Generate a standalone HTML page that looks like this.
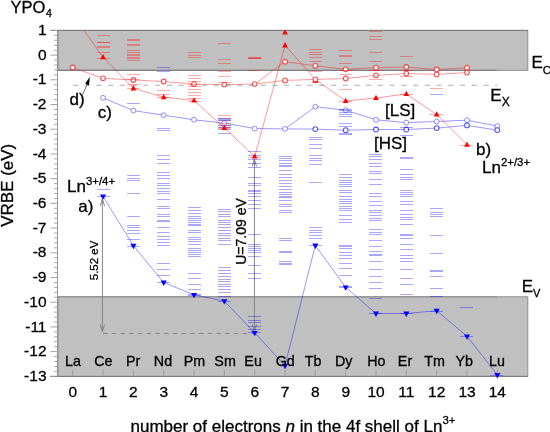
<!DOCTYPE html>
<html><head><meta charset="utf-8"><style>
html,body{margin:0;padding:0;background:#fff;}
body{width:550px;height:432px;overflow:hidden;}
svg{display:block;will-change:transform;}
</style></head><body>
<svg width="550" height="432" viewBox="0 0 550 432">
<rect x="58" y="30.4" width="469.8" height="39.9" fill="#c0c0c0" stroke="#8c8c8c" stroke-width="1"/>
<rect x="58" y="296.8" width="469.8" height="79.6" fill="#c0c0c0" stroke="#8c8c8c" stroke-width="1"/>
<line x1="50.5" y1="30.4" x2="528" y2="30.4" stroke="#7a7a7a" stroke-width="1"/>
<line x1="58" y1="70.3" x2="497" y2="70.3" stroke="#7a7a7a" stroke-width="1"/>
<line x1="58" y1="296.8" x2="497" y2="296.8" stroke="#8e8e8e" stroke-width="0.9"/>
<line x1="57.5" y1="30" x2="57.5" y2="376.5" stroke="#8a8a8a" stroke-width="0.9"/>
<line x1="50" y1="376.4" x2="528" y2="376.4" stroke="#7a7a7a" stroke-width="1"/>
<line x1="50.5" y1="30.40" x2="58" y2="30.40" stroke="#9a9a9a" stroke-width="0.9"/>
<line x1="54.2" y1="35.34" x2="58" y2="35.34" stroke="#9a9a9a" stroke-width="0.9"/>
<line x1="54.2" y1="40.28" x2="58" y2="40.28" stroke="#9a9a9a" stroke-width="0.9"/>
<line x1="54.2" y1="45.23" x2="58" y2="45.23" stroke="#9a9a9a" stroke-width="0.9"/>
<line x1="54.2" y1="50.17" x2="58" y2="50.17" stroke="#9a9a9a" stroke-width="0.9"/>
<line x1="50.5" y1="55.11" x2="58" y2="55.11" stroke="#9a9a9a" stroke-width="0.9"/>
<line x1="54.2" y1="60.05" x2="58" y2="60.05" stroke="#9a9a9a" stroke-width="0.9"/>
<line x1="54.2" y1="64.99" x2="58" y2="64.99" stroke="#9a9a9a" stroke-width="0.9"/>
<line x1="54.2" y1="69.94" x2="58" y2="69.94" stroke="#9a9a9a" stroke-width="0.9"/>
<line x1="54.2" y1="74.88" x2="58" y2="74.88" stroke="#9a9a9a" stroke-width="0.9"/>
<line x1="50.5" y1="79.82" x2="58" y2="79.82" stroke="#9a9a9a" stroke-width="0.9"/>
<line x1="54.2" y1="84.76" x2="58" y2="84.76" stroke="#9a9a9a" stroke-width="0.9"/>
<line x1="54.2" y1="89.70" x2="58" y2="89.70" stroke="#9a9a9a" stroke-width="0.9"/>
<line x1="54.2" y1="94.65" x2="58" y2="94.65" stroke="#9a9a9a" stroke-width="0.9"/>
<line x1="54.2" y1="99.59" x2="58" y2="99.59" stroke="#9a9a9a" stroke-width="0.9"/>
<line x1="50.5" y1="104.53" x2="58" y2="104.53" stroke="#9a9a9a" stroke-width="0.9"/>
<line x1="54.2" y1="109.47" x2="58" y2="109.47" stroke="#9a9a9a" stroke-width="0.9"/>
<line x1="54.2" y1="114.41" x2="58" y2="114.41" stroke="#9a9a9a" stroke-width="0.9"/>
<line x1="54.2" y1="119.36" x2="58" y2="119.36" stroke="#9a9a9a" stroke-width="0.9"/>
<line x1="54.2" y1="124.30" x2="58" y2="124.30" stroke="#9a9a9a" stroke-width="0.9"/>
<line x1="50.5" y1="129.24" x2="58" y2="129.24" stroke="#9a9a9a" stroke-width="0.9"/>
<line x1="54.2" y1="134.18" x2="58" y2="134.18" stroke="#9a9a9a" stroke-width="0.9"/>
<line x1="54.2" y1="139.12" x2="58" y2="139.12" stroke="#9a9a9a" stroke-width="0.9"/>
<line x1="54.2" y1="144.07" x2="58" y2="144.07" stroke="#9a9a9a" stroke-width="0.9"/>
<line x1="54.2" y1="149.01" x2="58" y2="149.01" stroke="#9a9a9a" stroke-width="0.9"/>
<line x1="50.5" y1="153.95" x2="58" y2="153.95" stroke="#9a9a9a" stroke-width="0.9"/>
<line x1="54.2" y1="158.89" x2="58" y2="158.89" stroke="#9a9a9a" stroke-width="0.9"/>
<line x1="54.2" y1="163.83" x2="58" y2="163.83" stroke="#9a9a9a" stroke-width="0.9"/>
<line x1="54.2" y1="168.78" x2="58" y2="168.78" stroke="#9a9a9a" stroke-width="0.9"/>
<line x1="54.2" y1="173.72" x2="58" y2="173.72" stroke="#9a9a9a" stroke-width="0.9"/>
<line x1="50.5" y1="178.66" x2="58" y2="178.66" stroke="#9a9a9a" stroke-width="0.9"/>
<line x1="54.2" y1="183.60" x2="58" y2="183.60" stroke="#9a9a9a" stroke-width="0.9"/>
<line x1="54.2" y1="188.54" x2="58" y2="188.54" stroke="#9a9a9a" stroke-width="0.9"/>
<line x1="54.2" y1="193.49" x2="58" y2="193.49" stroke="#9a9a9a" stroke-width="0.9"/>
<line x1="54.2" y1="198.43" x2="58" y2="198.43" stroke="#9a9a9a" stroke-width="0.9"/>
<line x1="50.5" y1="203.37" x2="58" y2="203.37" stroke="#9a9a9a" stroke-width="0.9"/>
<line x1="54.2" y1="208.31" x2="58" y2="208.31" stroke="#9a9a9a" stroke-width="0.9"/>
<line x1="54.2" y1="213.25" x2="58" y2="213.25" stroke="#9a9a9a" stroke-width="0.9"/>
<line x1="54.2" y1="218.20" x2="58" y2="218.20" stroke="#9a9a9a" stroke-width="0.9"/>
<line x1="54.2" y1="223.14" x2="58" y2="223.14" stroke="#9a9a9a" stroke-width="0.9"/>
<line x1="50.5" y1="228.08" x2="58" y2="228.08" stroke="#9a9a9a" stroke-width="0.9"/>
<line x1="54.2" y1="233.02" x2="58" y2="233.02" stroke="#9a9a9a" stroke-width="0.9"/>
<line x1="54.2" y1="237.96" x2="58" y2="237.96" stroke="#9a9a9a" stroke-width="0.9"/>
<line x1="54.2" y1="242.91" x2="58" y2="242.91" stroke="#9a9a9a" stroke-width="0.9"/>
<line x1="54.2" y1="247.85" x2="58" y2="247.85" stroke="#9a9a9a" stroke-width="0.9"/>
<line x1="50.5" y1="252.79" x2="58" y2="252.79" stroke="#9a9a9a" stroke-width="0.9"/>
<line x1="54.2" y1="257.73" x2="58" y2="257.73" stroke="#9a9a9a" stroke-width="0.9"/>
<line x1="54.2" y1="262.67" x2="58" y2="262.67" stroke="#9a9a9a" stroke-width="0.9"/>
<line x1="54.2" y1="267.62" x2="58" y2="267.62" stroke="#9a9a9a" stroke-width="0.9"/>
<line x1="54.2" y1="272.56" x2="58" y2="272.56" stroke="#9a9a9a" stroke-width="0.9"/>
<line x1="50.5" y1="277.50" x2="58" y2="277.50" stroke="#9a9a9a" stroke-width="0.9"/>
<line x1="54.2" y1="282.44" x2="58" y2="282.44" stroke="#9a9a9a" stroke-width="0.9"/>
<line x1="54.2" y1="287.38" x2="58" y2="287.38" stroke="#9a9a9a" stroke-width="0.9"/>
<line x1="54.2" y1="292.33" x2="58" y2="292.33" stroke="#9a9a9a" stroke-width="0.9"/>
<line x1="54.2" y1="297.27" x2="58" y2="297.27" stroke="#9a9a9a" stroke-width="0.9"/>
<line x1="50.5" y1="302.21" x2="58" y2="302.21" stroke="#9a9a9a" stroke-width="0.9"/>
<line x1="54.2" y1="307.15" x2="58" y2="307.15" stroke="#9a9a9a" stroke-width="0.9"/>
<line x1="54.2" y1="312.09" x2="58" y2="312.09" stroke="#9a9a9a" stroke-width="0.9"/>
<line x1="54.2" y1="317.04" x2="58" y2="317.04" stroke="#9a9a9a" stroke-width="0.9"/>
<line x1="54.2" y1="321.98" x2="58" y2="321.98" stroke="#9a9a9a" stroke-width="0.9"/>
<line x1="50.5" y1="326.92" x2="58" y2="326.92" stroke="#9a9a9a" stroke-width="0.9"/>
<line x1="54.2" y1="331.86" x2="58" y2="331.86" stroke="#9a9a9a" stroke-width="0.9"/>
<line x1="54.2" y1="336.80" x2="58" y2="336.80" stroke="#9a9a9a" stroke-width="0.9"/>
<line x1="54.2" y1="341.75" x2="58" y2="341.75" stroke="#9a9a9a" stroke-width="0.9"/>
<line x1="54.2" y1="346.69" x2="58" y2="346.69" stroke="#9a9a9a" stroke-width="0.9"/>
<line x1="50.5" y1="351.63" x2="58" y2="351.63" stroke="#9a9a9a" stroke-width="0.9"/>
<line x1="54.2" y1="356.57" x2="58" y2="356.57" stroke="#9a9a9a" stroke-width="0.9"/>
<line x1="54.2" y1="361.51" x2="58" y2="361.51" stroke="#9a9a9a" stroke-width="0.9"/>
<line x1="54.2" y1="366.46" x2="58" y2="366.46" stroke="#9a9a9a" stroke-width="0.9"/>
<line x1="54.2" y1="371.40" x2="58" y2="371.40" stroke="#9a9a9a" stroke-width="0.9"/>
<line x1="50.5" y1="376.34" x2="58" y2="376.34" stroke="#9a9a9a" stroke-width="0.9"/>
<line x1="72.70" y1="370" x2="72.70" y2="376.4" stroke="#9a9a9a" stroke-width="0.9"/>
<line x1="103.03" y1="370" x2="103.03" y2="376.4" stroke="#9a9a9a" stroke-width="0.9"/>
<line x1="133.36" y1="370" x2="133.36" y2="376.4" stroke="#9a9a9a" stroke-width="0.9"/>
<line x1="163.69" y1="370" x2="163.69" y2="376.4" stroke="#9a9a9a" stroke-width="0.9"/>
<line x1="194.02" y1="370" x2="194.02" y2="376.4" stroke="#9a9a9a" stroke-width="0.9"/>
<line x1="224.35" y1="370" x2="224.35" y2="376.4" stroke="#9a9a9a" stroke-width="0.9"/>
<line x1="254.68" y1="370" x2="254.68" y2="376.4" stroke="#9a9a9a" stroke-width="0.9"/>
<line x1="285.01" y1="370" x2="285.01" y2="376.4" stroke="#9a9a9a" stroke-width="0.9"/>
<line x1="315.34" y1="370" x2="315.34" y2="376.4" stroke="#9a9a9a" stroke-width="0.9"/>
<line x1="345.67" y1="370" x2="345.67" y2="376.4" stroke="#9a9a9a" stroke-width="0.9"/>
<line x1="376.00" y1="370" x2="376.00" y2="376.4" stroke="#9a9a9a" stroke-width="0.9"/>
<line x1="406.33" y1="370" x2="406.33" y2="376.4" stroke="#9a9a9a" stroke-width="0.9"/>
<line x1="436.66" y1="370" x2="436.66" y2="376.4" stroke="#9a9a9a" stroke-width="0.9"/>
<line x1="466.99" y1="370" x2="466.99" y2="376.4" stroke="#9a9a9a" stroke-width="0.9"/>
<line x1="497.32" y1="370" x2="497.32" y2="376.4" stroke="#9a9a9a" stroke-width="0.9"/>
<line x1="102.4" y1="199" x2="102.4" y2="331.5" stroke="#858585" stroke-width="1"/>
<path d="M100.3 205.8 L102.4 198.8 L104.5 205.8 M100.1 324.2 L102.4 331.8 L104.7 324.2" stroke="#858585" stroke-width="1" fill="none"/>
<line x1="103" y1="333.4" x2="254" y2="333.4" stroke="#858585" stroke-width="1" stroke-dasharray="4.4 4.33"/>
<line x1="254.4" y1="159" x2="254.4" y2="331.5" stroke="#858585" stroke-width="1"/>
<path d="M252.3 166.4 L254.4 159 L256.5 166.4 M252.3 324.5 L254.4 331.8 L256.5 324.5" stroke="#858585" stroke-width="1" fill="none"/>
<line x1="72.9" y1="85.3" x2="497" y2="85.3" stroke="#b0b0b0" stroke-width="1.1" stroke-dasharray="5.2 6.53"/>
<clipPath id="cp"><rect x="58" y="30.4" width="480" height="346"/></clipPath>
<g clip-path="url(#cp)">
<polyline points="72.7,67.5 103.0,78.3 133.4,80.0 163.7,81.5 194.0,84.1 224.3,84.6 254.7,84.1 285.0,80.4 315.3,79.4 345.7,78.5 376.0,75.4 406.3,73.5 436.7,74.4 467.0,72.6" stroke="rgba(255,0,0,0.45)" stroke-width="0.9" fill="none"/>
<polyline points="254.7,84.1 285.0,61.7 315.3,65.8 345.7,69.3 376.0,67.6 406.3,67.0 436.7,69.5 467.0,67.7" stroke="rgba(255,0,0,0.45)" stroke-width="0.9" fill="none"/>
<polyline points="103.0,97.8 133.4,110.6 163.7,115.2 194.0,119.8 224.3,123.1 254.7,128.5 285.0,128.9" stroke="rgba(0,0,255,0.45)" stroke-width="0.9" fill="none"/>
<polyline points="285.0,128.9 315.3,106.7 345.7,110.2 376.0,119.8 406.3,122.6 436.7,121.5 467.0,120.2 497.3,126.1" stroke="rgba(0,0,255,0.45)" stroke-width="0.9" fill="none"/>
<polyline points="285.0,128.9 315.3,129.1 345.7,130.2 376.0,129.5 406.3,129.5 436.7,128.1 467.0,125.4 497.3,130.1" stroke="rgba(0,0,255,0.45)" stroke-width="0.9" fill="none"/>
<polyline points="72.7,14.7 103.0,57.2 133.4,88.3 163.7,97.2 194.0,100.4 224.3,127.8 254.7,156.5 285.0,45.3 315.3,79.4 345.7,101.0 376.0,98.0 406.3,93.9 436.7,114.5 467.0,144.6" stroke="rgba(255,0,0,0.45)" stroke-width="0.9" fill="none"/>
<polyline points="103.0,196.3 133.4,245.7 163.7,282.5 194.0,294.8 224.3,301.1 254.7,332.8 285.0,365.7 315.3,245.4 345.7,287.3 376.0,313.5 406.3,313.5 436.7,310.7 467.0,336.3 497.3,374.9" stroke="rgba(0,0,255,0.45)" stroke-width="0.9" fill="none"/>
</g>
<path d="M315.3 77.4 L318.4 82.8 L312.2 82.8Z" fill="#ff0000"/>
<circle cx="72.7" cy="67.5" r="2.35" fill="#fff" stroke="rgba(240,30,30,0.75)" stroke-width="1.1"/>
<circle cx="103.0" cy="78.3" r="2.35" fill="#fff" stroke="rgba(240,30,30,0.75)" stroke-width="1.1"/>
<circle cx="133.4" cy="80.0" r="2.35" fill="#fff" stroke="rgba(240,30,30,0.75)" stroke-width="1.1"/>
<circle cx="163.7" cy="81.5" r="2.35" fill="#fff" stroke="rgba(240,30,30,0.75)" stroke-width="1.1"/>
<circle cx="194.0" cy="84.1" r="2.35" fill="#fff" stroke="rgba(240,30,30,0.75)" stroke-width="1.1"/>
<circle cx="224.3" cy="84.6" r="2.35" fill="#fff" stroke="rgba(240,30,30,0.75)" stroke-width="1.1"/>
<circle cx="254.7" cy="84.1" r="2.35" fill="#fff" stroke="rgba(240,30,30,0.75)" stroke-width="1.1"/>
<circle cx="285.0" cy="80.4" r="2.35" fill="#fff" stroke="rgba(240,30,30,0.75)" stroke-width="1.1"/>
<circle cx="315.3" cy="79.4" r="2.35" fill="#fff" stroke="rgba(240,30,30,0.75)" stroke-width="1.1"/>
<circle cx="345.7" cy="78.5" r="2.35" fill="#fff" stroke="rgba(240,30,30,0.75)" stroke-width="1.1"/>
<circle cx="376.0" cy="75.4" r="2.35" fill="#fff" stroke="rgba(240,30,30,0.75)" stroke-width="1.1"/>
<circle cx="406.3" cy="73.5" r="2.35" fill="#fff" stroke="rgba(240,30,30,0.75)" stroke-width="1.1"/>
<circle cx="436.7" cy="74.4" r="2.35" fill="#fff" stroke="rgba(240,30,30,0.75)" stroke-width="1.1"/>
<circle cx="467.0" cy="72.6" r="2.35" fill="#fff" stroke="rgba(240,30,30,0.75)" stroke-width="1.1"/>
<circle cx="285.0" cy="61.7" r="2.35" fill="#fff" stroke="rgba(240,30,30,0.75)" stroke-width="1.1"/>
<circle cx="315.3" cy="65.8" r="2.35" fill="#fff" stroke="rgba(240,30,30,0.75)" stroke-width="1.1"/>
<circle cx="345.7" cy="69.3" r="2.35" fill="#fff" stroke="rgba(240,30,30,0.75)" stroke-width="1.1"/>
<circle cx="376.0" cy="67.6" r="2.35" fill="#fff" stroke="rgba(240,30,30,0.75)" stroke-width="1.1"/>
<circle cx="406.3" cy="67.0" r="2.35" fill="#fff" stroke="rgba(240,30,30,0.75)" stroke-width="1.1"/>
<circle cx="436.7" cy="69.5" r="2.35" fill="#fff" stroke="rgba(240,30,30,0.75)" stroke-width="1.1"/>
<circle cx="467.0" cy="67.7" r="2.35" fill="#fff" stroke="rgba(240,30,30,0.75)" stroke-width="1.1"/>
<circle cx="103.0" cy="97.8" r="2.45" fill="#fff" stroke="rgba(0,0,255,0.45)" stroke-width="0.95"/>
<circle cx="133.4" cy="110.6" r="2.45" fill="#fff" stroke="rgba(0,0,255,0.45)" stroke-width="0.95"/>
<circle cx="163.7" cy="115.2" r="2.45" fill="#fff" stroke="rgba(0,0,255,0.45)" stroke-width="0.95"/>
<circle cx="194.0" cy="119.8" r="2.45" fill="#fff" stroke="rgba(0,0,255,0.45)" stroke-width="0.95"/>
<circle cx="224.3" cy="123.1" r="2.45" fill="#fff" stroke="rgba(0,0,255,0.45)" stroke-width="0.95"/>
<circle cx="254.7" cy="128.5" r="2.45" fill="#fff" stroke="rgba(0,0,255,0.45)" stroke-width="0.95"/>
<circle cx="285.0" cy="128.9" r="2.45" fill="#fff" stroke="rgba(0,0,255,0.45)" stroke-width="0.95"/>
<circle cx="315.3" cy="106.7" r="2.45" fill="#fff" stroke="rgba(0,0,255,0.45)" stroke-width="0.95"/>
<circle cx="345.7" cy="110.2" r="2.45" fill="#fff" stroke="rgba(0,0,255,0.45)" stroke-width="0.95"/>
<circle cx="376.0" cy="119.8" r="2.45" fill="#fff" stroke="rgba(0,0,255,0.45)" stroke-width="0.95"/>
<circle cx="406.3" cy="122.6" r="2.45" fill="#fff" stroke="rgba(0,0,255,0.45)" stroke-width="0.95"/>
<circle cx="436.7" cy="121.5" r="2.45" fill="#fff" stroke="rgba(0,0,255,0.45)" stroke-width="0.95"/>
<circle cx="467.0" cy="120.2" r="2.45" fill="#fff" stroke="rgba(0,0,255,0.45)" stroke-width="0.95"/>
<circle cx="497.3" cy="126.1" r="2.45" fill="#fff" stroke="rgba(0,0,255,0.45)" stroke-width="0.95"/>
<circle cx="315.3" cy="129.1" r="2.4" fill="#fff" stroke="rgba(0,0,255,0.68)" stroke-width="1.05"/>
<circle cx="345.7" cy="130.2" r="2.4" fill="#fff" stroke="rgba(0,0,255,0.68)" stroke-width="1.05"/>
<circle cx="376.0" cy="129.5" r="2.4" fill="#fff" stroke="rgba(0,0,255,0.68)" stroke-width="1.05"/>
<circle cx="406.3" cy="129.5" r="2.4" fill="#fff" stroke="rgba(0,0,255,0.68)" stroke-width="1.05"/>
<circle cx="436.7" cy="128.1" r="2.4" fill="#fff" stroke="rgba(0,0,255,0.68)" stroke-width="1.05"/>
<circle cx="467.0" cy="125.4" r="2.4" fill="#fff" stroke="rgba(0,0,255,0.68)" stroke-width="1.05"/>
<circle cx="497.3" cy="130.1" r="2.4" fill="#fff" stroke="rgba(0,0,255,0.68)" stroke-width="1.05"/>
<path d="M97 35.5h13M97 42.5h13M97 42.5h13M97 46.5h13M97 47.5h13M97 52.5h13M97 58.5h13" stroke="rgba(255,0,0,0.33)" stroke-width="1" fill="none"/>
<path d="M97 189.5h13M97 196.5h13" stroke="rgba(0,0,255,0.34)" stroke-width="1" fill="none"/>
<path d="M127 39.5h13M127 40.5h13M127 44.5h13M127 45.5h13M127 50.5h13M127 52.5h13M127 54.5h13M127 55.5h13M127 57.5h13M127 58.5h13M127 60.5h13M127 74.5h13M127 79.5h13M127 84.5h13M127 88.5h13" stroke="rgba(255,0,0,0.33)" stroke-width="1" fill="none"/>
<path d="M127 103.5h13M127 175.5h13M127 178.5h13M127 180.5h13M127 193.5h13M127 216.5h13M127 225.5h13M127 227.5h13M127 230.5h13M127 233.5h13M127 239.5h13M127 246.5h13" stroke="rgba(0,0,255,0.34)" stroke-width="1" fill="none"/>
<path d="M157 67.5h13M157 71.5h13M157 128.5h13M157 130.5h13M157 155.5h13M157 159.5h13M157 163.5h13M157 172.5h13M157 175.5h13M157 178.5h13M157 183.5h13M157 185.5h13M157 188.5h13M157 191.5h13M157 193.5h13M157 199.5h13M157 206.5h13M157 208.5h13M157 214.5h13M157 216.5h13M157 220.5h13M157 221.5h13M157 227.5h13M157 232.5h13M157 236.5h13M157 239.5h13M157 242.5h13M157 245.5h13M157 263.5h13M157 269.5h13M157 275.5h13M157 282.5h13" stroke="rgba(0,0,255,0.34)" stroke-width="1" fill="none"/>
<path d="M157 90.5h13M157 94.5h13M157 97.5h13" stroke="rgba(255,0,0,0.33)" stroke-width="1" fill="none"/>
<path d="M188 52.5h13M188 55.5h13M188 57.5h13M188 75.5h13M188 78.5h13M188 81.5h13M188 84.5h13M188 86.5h13M188 89.5h13M188 92.5h13M188 95.5h13M188 98.5h13M188 101.5h13" stroke="rgba(255,0,0,0.33)" stroke-width="1" fill="none"/>
<path d="M188 207.5h13M188 210.5h13M188 213.5h13M188 216.5h13M188 218.5h13M188 220.5h13M188 222.5h13M188 224.5h13M188 225.5h13M188 230.5h13M188 232.5h13M188 237.5h13M188 239.5h13M188 241.5h13M188 244.5h13M188 248.5h13M188 250.5h13M188 252.5h13M188 254.5h13M188 256.5h13M188 273.5h13M188 278.5h13M188 284.5h13M188 289.5h13M188 294.5h13M188 295.5h13" stroke="rgba(0,0,255,0.34)" stroke-width="1" fill="none"/>
<path d="M218 43.5h13M218 59.5h13M218 63.5h13M218 71.5h13M218 76.5h13M218 82.5h13M218 115.5h13M218 118.5h13M218 120.5h13M218 123.5h13M218 125.5h13M218 127.5h13M218 128.5h13" stroke="rgba(255,0,0,0.33)" stroke-width="1" fill="none"/>
<path d="M218 118.5h13M218 119.5h13M218 120.5h13M218 125.5h13M218 127.5h13M218 129.5h13M218 133.5h13M218 209.5h13M218 211.5h13M218 214.5h13M218 216.5h13M218 220.5h13M218 222.5h13M218 224.5h13M218 227.5h13M218 230.5h13M218 233.5h13M218 235.5h13M218 238.5h13M218 240.5h13M218 244.5h13M218 267.5h13M218 270.5h13M218 273.5h13M218 276.5h13M218 279.5h13M218 281.5h13M218 284.5h13M218 286.5h13M218 289.5h13M218 292.5h13M218 296.5h13M218 301.5h13" stroke="rgba(0,0,255,0.34)" stroke-width="1" fill="none"/>
<path d="M248 70.5h13M248 157.5h13" stroke="rgba(255,0,0,0.33)" stroke-width="1" fill="none"/>
<path d="M248 151.5h13M248 155.5h13M248 159.5h13M248 163.5h13M248 167.5h13M248 177.5h13M248 183.5h13M248 185.5h13M248 190.5h13M248 191.5h13M248 193.5h13M248 196.5h13M248 200.5h13M248 204.5h13M248 208.5h13M248 234.5h13M248 244.5h13M248 246.5h13M248 248.5h13M248 250.5h13M248 252.5h13M248 256.5h13M248 265.5h13M248 273.5h13M248 278.5h13M248 316.5h13M248 320.5h13M248 322.5h13M248 326.5h13M248 329.5h13M248 332.5h13" stroke="rgba(0,0,255,0.34)" stroke-width="1" fill="none"/>
<path d="M279 156.5h13M279 158.5h13M279 160.5h13M279 163.5h13M279 165.5h13M279 166.5h13M279 170.5h13M279 174.5h13M279 177.5h13M279 180.5h13M279 183.5h13M279 186.5h13M279 189.5h13M279 192.5h13M279 194.5h13M279 196.5h13M279 197.5h13M279 200.5h13M279 204.5h13M279 206.5h13M279 210.5h13M279 212.5h13M279 238.5h13M279 240.5h13M279 251.5h13M279 252.5h13M279 261.5h13M279 263.5h13M279 264.5h13" stroke="rgba(0,0,255,0.34)" stroke-width="1" fill="none"/>
<path d="M309 49.5h13M309 52.5h13M309 54.5h13M309 57.5h13M309 61.5h13M309 71.5h13" stroke="rgba(255,0,0,0.33)" stroke-width="1" fill="none"/>
<path d="M309 137.5h13M309 139.5h13M309 144.5h13M309 148.5h13M309 155.5h13M309 158.5h13M309 160.5h13M309 164.5h13M309 182.5h13M309 227.5h13M309 230.5h13M309 232.5h13M309 235.5h13M309 238.5h13M309 245.5h13" stroke="rgba(0,0,255,0.34)" stroke-width="1" fill="none"/>
<path d="M339 50.5h13M339 55.5h13M339 56.5h13M339 63.5h13M339 70.5h13M339 74.5h13M339 89.5h13M339 101.5h13" stroke="rgba(255,0,0,0.33)" stroke-width="1" fill="none"/>
<path d="M339 109.5h13M339 110.5h13M339 112.5h13M339 114.5h13M339 116.5h13M339 123.5h13M339 126.5h13M339 133.5h13M339 134.5h13M339 174.5h13M339 177.5h13M339 180.5h13M339 182.5h13M339 184.5h13M339 186.5h13M339 190.5h13M339 192.5h13M339 196.5h13M339 199.5h13M339 201.5h13M339 203.5h13M339 206.5h13M339 208.5h13M339 210.5h13M339 215.5h13M339 219.5h13M339 222.5h13M339 245.5h13M339 246.5h13M339 248.5h13M339 252.5h13M339 255.5h13M339 258.5h13M339 263.5h13M339 268.5h13M339 275.5h13M339 286.5h13M339 287.5h13" stroke="rgba(0,0,255,0.34)" stroke-width="1" fill="none"/>
<path d="M369 31.5h13M369 36.5h13M369 39.5h13M369 52.5h13M369 61.5h13M369 70.5h13M369 79.5h13" stroke="rgba(255,0,0,0.33)" stroke-width="1" fill="none"/>
<path d="M369 154.5h13M369 156.5h13M369 159.5h13M369 163.5h13M369 166.5h13M369 171.5h13M369 173.5h13M369 179.5h13M369 184.5h13M369 193.5h13M369 196.5h13M369 201.5h13M369 205.5h13M369 210.5h13M369 212.5h13M369 215.5h13M369 218.5h13M369 220.5h13M369 229.5h13M369 232.5h13M369 234.5h13M369 240.5h13M369 246.5h13M369 251.5h13M369 254.5h13M369 255.5h13M369 261.5h13M369 269.5h13M369 276.5h13M369 282.5h13M369 288.5h13M369 298.5h13M369 313.5h13" stroke="rgba(0,0,255,0.34)" stroke-width="1" fill="none"/>
<path d="M400 56.5h13M400 70.5h13M400 76.5h13M400 94.5h13" stroke="rgba(255,0,0,0.33)" stroke-width="1" fill="none"/>
<path d="M400 127.5h13M400 135.5h13M400 157.5h13M400 158.5h13M400 169.5h13M400 174.5h13M400 177.5h13M400 179.5h13M400 190.5h13M400 192.5h13M400 194.5h13M400 196.5h13M400 201.5h13M400 204.5h13M400 210.5h13M400 214.5h13M400 217.5h13M400 219.5h13M400 224.5h13M400 234.5h13M400 235.5h13M400 238.5h13M400 244.5h13M400 249.5h13M400 255.5h13M400 258.5h13M400 261.5h13M400 269.5h13M400 278.5h13M400 284.5h13M400 294.5h13M400 313.5h13" stroke="rgba(0,0,255,0.34)" stroke-width="1" fill="none"/>
<path d="M430 88.5h13M430 114.5h13" stroke="rgba(255,0,0,0.33)" stroke-width="1" fill="none"/>
<path d="M430 94.5h13M430 208.5h13M430 212.5h13M430 214.5h13M430 216.5h13M430 235.5h13M430 253.5h13M430 270.5h13M430 271.5h13M430 276.5h13M430 288.5h13M430 296.5h13M430 311.5h13" stroke="rgba(0,0,255,0.34)" stroke-width="1" fill="none"/>
<path d="M460 145.5h13" stroke="rgba(255,0,0,0.33)" stroke-width="1" fill="none"/>
<path d="M460 307.5h13M460 336.5h13" stroke="rgba(0,0,255,0.34)" stroke-width="1" fill="none"/>
<path d="M490 375.5h13" stroke="rgba(0,0,255,0.34)" stroke-width="1" fill="none"/>
<path d="M248.2 58.1h13" stroke="rgba(255,0,0,0.6)" stroke-width="1.8"/>
<path d="M103.0 54.0 L105.9 59.3 L100.2 59.3Z" fill="#ff0000"/>
<path d="M133.4 85.1 L136.2 90.4 L130.5 90.4Z" fill="#ff0000"/>
<path d="M163.7 94.0 L166.5 99.3 L160.8 99.3Z" fill="#ff0000"/>
<path d="M194.0 97.2 L196.9 102.5 L191.2 102.5Z" fill="#ff0000"/>
<path d="M224.3 124.6 L227.2 129.9 L221.5 129.9Z" fill="#ff0000"/>
<path d="M254.7 153.3 L257.5 158.6 L251.8 158.6Z" fill="#ff0000"/>
<path d="M285.0 42.1 L287.9 47.4 L282.2 47.4Z" fill="#ff0000"/>
<path d="M345.7 97.8 L348.5 103.1 L342.8 103.1Z" fill="#ff0000"/>
<path d="M376.0 94.8 L378.8 100.1 L373.1 100.1Z" fill="#ff0000"/>
<path d="M406.3 90.7 L409.2 96.0 L403.5 96.0Z" fill="#ff0000"/>
<path d="M436.7 111.3 L439.5 116.6 L433.8 116.6Z" fill="#ff0000"/>
<path d="M467.0 141.4 L469.8 146.7 L464.1 146.7Z" fill="#ff0000"/>
<path d="M285.0 29.3 L287.9 34.6 L282.2 34.6Z" fill="#ff0000"/>
<path d="M103.0 199.8 L106.1 194.4 L100.0 194.4Z" fill="#0000ff"/>
<path d="M133.4 249.2 L136.4 243.8 L130.3 243.8Z" fill="#0000ff"/>
<path d="M163.7 286.0 L166.7 280.6 L160.6 280.6Z" fill="#0000ff"/>
<path d="M194.0 298.3 L197.1 292.9 L191.0 292.9Z" fill="#0000ff"/>
<path d="M224.3 304.6 L227.4 299.2 L221.3 299.2Z" fill="#0000ff"/>
<path d="M254.7 336.3 L257.7 330.9 L251.6 330.9Z" fill="#0000ff"/>
<path d="M285.0 369.2 L288.1 363.8 L282.0 363.8Z" fill="#0000ff"/>
<path d="M315.3 248.9 L318.4 243.5 L312.3 243.5Z" fill="#0000ff"/>
<path d="M345.7 290.8 L348.7 285.4 L342.6 285.4Z" fill="#0000ff"/>
<path d="M376.0 317.0 L379.0 311.6 L372.9 311.6Z" fill="#0000ff"/>
<path d="M406.3 317.0 L409.4 311.6 L403.3 311.6Z" fill="#0000ff"/>
<path d="M436.7 314.2 L439.7 308.8 L433.6 308.8Z" fill="#0000ff"/>
<path d="M467.0 339.8 L470.0 334.4 L463.9 334.4Z" fill="#0000ff"/>
<path d="M497.3 378.4 L500.4 373.0 L494.3 373.0Z" fill="#0000ff"/>
<line x1="82.2" y1="95.6" x2="87.2" y2="84.2" stroke="#444" stroke-width="0.75"/>
<path d="M89.8 76.8 L85.2 83.8 L89 85.4Z" fill="#000"/>
<g font-family='"Liberation Sans", sans-serif' fill="#000" stroke="#000" stroke-width="0.3">
<text x="46.5" y="35.0" font-size="15.5" text-anchor="end" >1</text>
<text x="46.5" y="59.7" font-size="15.5" text-anchor="end" >0</text>
<text x="46.5" y="84.4" font-size="15.5" text-anchor="end" >-1</text>
<text x="46.5" y="109.1" font-size="15.5" text-anchor="end" >-2</text>
<text x="46.5" y="133.8" font-size="15.5" text-anchor="end" >-3</text>
<text x="46.5" y="158.6" font-size="15.5" text-anchor="end" >-4</text>
<text x="46.5" y="183.3" font-size="15.5" text-anchor="end" >-5</text>
<text x="46.5" y="208.0" font-size="15.5" text-anchor="end" >-6</text>
<text x="46.5" y="232.7" font-size="15.5" text-anchor="end" >-7</text>
<text x="46.5" y="257.4" font-size="15.5" text-anchor="end" >-8</text>
<text x="46.5" y="282.1" font-size="15.5" text-anchor="end" >-9</text>
<text x="46.5" y="306.8" font-size="15.5" text-anchor="end" >-10</text>
<text x="46.5" y="331.5" font-size="15.5" text-anchor="end" >-11</text>
<text x="46.5" y="356.2" font-size="15.5" text-anchor="end" >-12</text>
<text x="46.5" y="380.9" font-size="15.5" text-anchor="end" >-13</text>
<text x="72.7" y="396.9" font-size="15.5" text-anchor="middle" >0</text>
<text x="103.0" y="396.9" font-size="15.5" text-anchor="middle" >1</text>
<text x="133.4" y="396.9" font-size="15.5" text-anchor="middle" >2</text>
<text x="163.7" y="396.9" font-size="15.5" text-anchor="middle" >3</text>
<text x="194.0" y="396.9" font-size="15.5" text-anchor="middle" >4</text>
<text x="224.3" y="396.9" font-size="15.5" text-anchor="middle" >5</text>
<text x="254.7" y="396.9" font-size="15.5" text-anchor="middle" >6</text>
<text x="285.0" y="396.9" font-size="15.5" text-anchor="middle" >7</text>
<text x="315.3" y="396.9" font-size="15.5" text-anchor="middle" >8</text>
<text x="345.7" y="396.9" font-size="15.5" text-anchor="middle" >9</text>
<text x="376.0" y="396.9" font-size="15.5" text-anchor="middle" >10</text>
<text x="406.3" y="396.9" font-size="15.5" text-anchor="middle" >11</text>
<text x="436.7" y="396.9" font-size="15.5" text-anchor="middle" >12</text>
<text x="467.0" y="396.9" font-size="15.5" text-anchor="middle" >13</text>
<text x="497.3" y="396.9" font-size="15.5" text-anchor="middle" >14</text>
<text x="73.0" y="365.5" font-size="14.3" text-anchor="middle" >La</text>
<text x="103.3" y="365.5" font-size="14.3" text-anchor="middle" >Ce</text>
<text x="133.2" y="365.5" font-size="14.3" text-anchor="middle" >Pr</text>
<text x="163.0" y="365.5" font-size="14.3" text-anchor="middle" >Nd</text>
<text x="194.5" y="365.5" font-size="14.3" text-anchor="middle" >Pm</text>
<text x="225.1" y="365.5" font-size="14.3" text-anchor="middle" >Sm</text>
<text x="253.1" y="365.5" font-size="14.3" text-anchor="middle" >Eu</text>
<text x="285.3" y="365.5" font-size="14.3" text-anchor="middle" >Gd</text>
<text x="313.0" y="365.5" font-size="14.3" text-anchor="middle" >Tb</text>
<text x="343.8" y="365.5" font-size="14.3" text-anchor="middle" >Dy</text>
<text x="376.3" y="365.5" font-size="14.3" text-anchor="middle" >Ho</text>
<text x="405.0" y="365.5" font-size="14.3" text-anchor="middle" >Er</text>
<text x="434.5" y="365.5" font-size="14.3" text-anchor="middle" >Tm</text>
<text x="464.2" y="366.1" font-size="14.3" text-anchor="middle" >Yb</text>
<text x="497.0" y="365.5" font-size="14.3" text-anchor="middle" >Lu</text>
<text x="10.5" y="12.6" font-size="16.5" text-anchor="start" >YPO<tspan font-size="10.5" dx="0.6" dy="4.6">4</tspan></text>
<text transform="translate(13.4,185.3) rotate(-90)" font-size="17" text-anchor="middle">VRBE (eV)</text>
<text x="130.5" y="431.9" font-size="17" text-anchor="start" >number of electrons <tspan font-style="italic">n</tspan> in the 4f shell of Ln<tspan font-size="11.4" dy="-7.8">3+</tspan></text>
<text x="531.5" y="68.2" font-size="17" text-anchor="start" >E<tspan font-size="11.5" dy="5.6">C</tspan></text>
<text x="490.3" y="101.1" font-size="17" text-anchor="start" >E<tspan font-size="12" dy="5">X</tspan></text>
<text x="521.7" y="291.9" font-size="17" text-anchor="start" >E<tspan font-size="11" dy="4.6">V</tspan></text>
<text x="385" y="116.1" font-size="17" text-anchor="start" >[LS]</text>
<text x="374" y="149.2" font-size="17" text-anchor="start" >[HS]</text>
<text x="476" y="154.7" font-size="17" text-anchor="start" >b)</text>
<text x="482" y="172.9" font-size="17" text-anchor="start" >Ln<tspan font-size="11.4" dy="-6.7">2+/3+</tspan></text>
<text x="67" y="192.3" font-size="17" text-anchor="start" >Ln<tspan font-size="11.4" dy="-7.5">3+/4+</tspan></text>
<text x="78.3" y="211.9" font-size="17" text-anchor="start" >a)</text>
<text x="97.8" y="118" font-size="17" text-anchor="start" >c)</text>
<text x="69.5" y="104.6" font-size="17" text-anchor="start" >d)</text>
<text transform="translate(97.9,260.4) rotate(-90)" font-size="11.5" text-anchor="middle">5.52 eV</text>
<text transform="translate(246.2,231.5) rotate(-90)" font-size="14" text-anchor="middle">U=7.09 eV</text>
</g>
</svg>
</body></html>
